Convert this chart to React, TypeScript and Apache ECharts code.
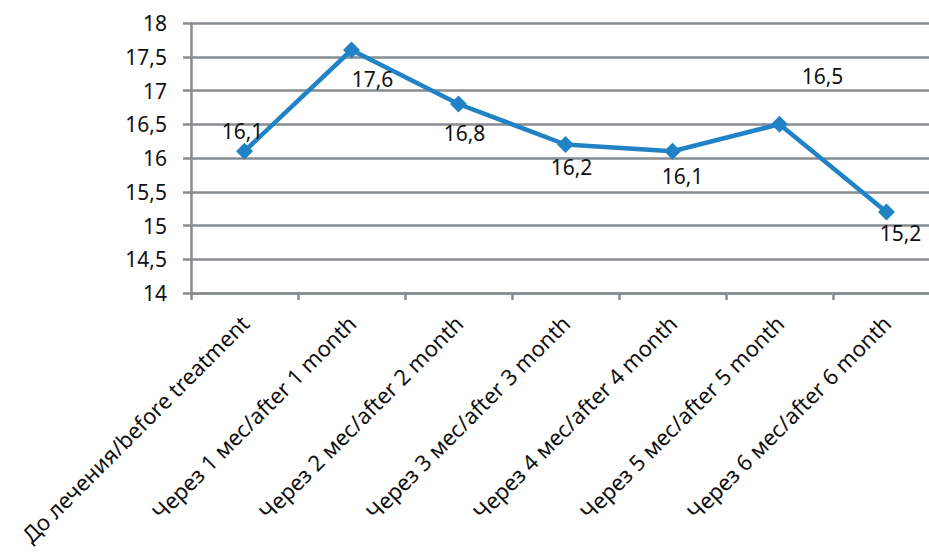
import React, { useEffect, useRef } from "react";
import * as echarts from "echarts";

// Time points of the observation
const categories: string[] = [
  "До лечения/before treatment",
  "Через 1 мес/after 1 month",
  "Через 2 мес/after 2 month",
  "Через 3 мес/after 3 month",
  "Через 4 мес/after 4 month",
  "Через 5 мес/after 5 month",
  "Через 6 мес/after 6 month",
];

// Measured values at each time point
const values: number[] = [16.1, 17.6, 16.8, 16.2, 16.1, 16.5, 15.2];

// Value axis range
const yMin = 14;
const yMax = 18;
const yStep = 0.5;

// Per-point label offsets (dx, dy) relative to the marker centre
const labelOffsets: [number, number][] = [
  [-2, -20],
  [21, 29],
  [6, 29],
  [6, 22],
  [10, 25],
  [43, -48],
  [14, 21],
];

const FONT = "'Noto Sans', 'DejaVu Sans', sans-serif";
const GRID_COLOR = "#878c90";
const LINE_COLOR = "#2183c6";

const comma = (v: number) => String(v).replace(".", ",");

export default function App() {
  const ref = useRef<HTMLDivElement>(null);

  useEffect(() => {
    if (!ref.current) return;
    const chart = echarts.init(ref.current, undefined, { renderer: "svg" });
    chart.setOption({
      animation: false,
      backgroundColor: "#ffffff",
      grid: {
        left: 191,
        top: 23,
        height: 270,
        width: 749,
        containLabel: false,
        outerBoundsMode: "none",
      },
      xAxis: {
        type: "category",
        data: categories,
        boundaryGap: true,
        axisLine: { show: true, lineStyle: { color: GRID_COLOR, width: 2.5 } },
        axisTick: { show: true, alignWithLabel: false, length: 7, lineStyle: { color: GRID_COLOR, width: 2.5 } },
        axisLabel: {
          rotate: 45,
          interval: 0,
          margin: 26,
          color: "#111111",
          fontFamily: FONT,
          fontSize: 22,
        },
        splitLine: { show: false },
      },
      yAxis: {
        type: "value",
        min: yMin,
        max: yMax,
        interval: yStep,
        axisLine: { show: true, lineStyle: { color: GRID_COLOR, width: 2.5 } },
        axisTick: { show: true, length: 8, lineStyle: { color: GRID_COLOR, width: 2.5 } },
        axisLabel: {
          margin: 24,
          color: "#111111",
          fontFamily: FONT,
          fontSize: 21,
          formatter: (v: number) => comma(v),
        },
        splitLine: { show: true, lineStyle: { color: GRID_COLOR, width: 2.5 } },
      },
      series: [
        {
          type: "line",
          data: values.map((v, i) => ({
            value: v,
            label: { offset: labelOffsets[i] },
          })),
          symbol: "diamond",
          symbolSize: 17,
          lineStyle: { color: LINE_COLOR, width: 4.5 },
          itemStyle: { color: LINE_COLOR },
          label: {
            show: true,
            position: "inside",
            color: "#111111",
            fontFamily: FONT,
            fontSize: 21,
            formatter: (p: any) => comma(p.value),
          },
        },
      ],
    });
    return () => chart.dispose();
  }, []);

  return (
    <div
      ref={ref}
      style={{ position: "fixed", left: 0, top: 0, width: 929, height: 559 }}
    />
  );
}
